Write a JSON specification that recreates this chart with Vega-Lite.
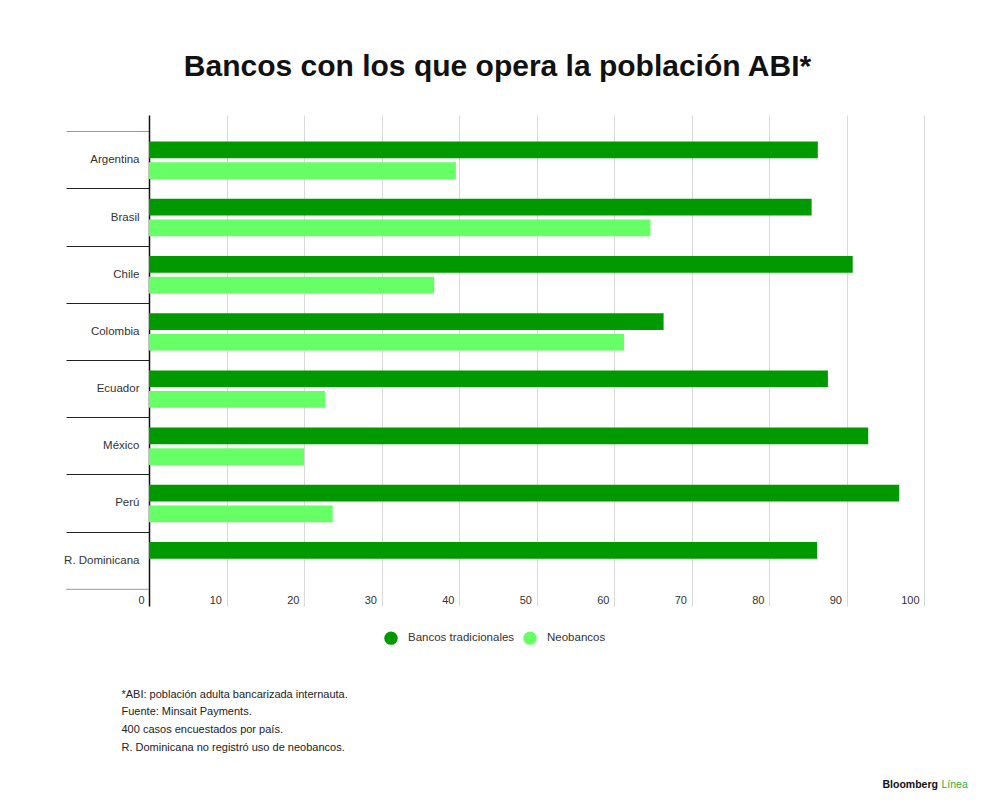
{
  "$schema": "https://vega.github.io/schema/vega-lite/v6.json",
  "autosize": "none",
  "width": 775,
  "height": 491,
  "padding": {"left": 149, "top": 115, "right": 76, "bottom": 206},
  "background": "white",
  "title": {
    "text": "Bancos con los que opera la población ABI*",
    "font": "Liberation Sans",
    "fontSize": 30,
    "fontWeight": "bold",
    "color": "#111111",
    "anchor": "middle",
    "frame": "group",
    "dx": -39,
    "offset": 33
  },
  "config": {"view": {"stroke": null}},
  "data": {
    "values": [
      {"pais": "Argentina", "tipo": "Bancos tradicionales", "valor": 86.3},
      {"pais": "Argentina", "tipo": "Neobancos", "valor": 39.6},
      {"pais": "Brasil", "tipo": "Bancos tradicionales", "valor": 85.5},
      {"pais": "Brasil", "tipo": "Neobancos", "valor": 64.7},
      {"pais": "Chile", "tipo": "Bancos tradicionales", "valor": 90.8},
      {"pais": "Chile", "tipo": "Neobancos", "valor": 36.8},
      {"pais": "Colombia", "tipo": "Bancos tradicionales", "valor": 66.4},
      {"pais": "Colombia", "tipo": "Neobancos", "valor": 61.3},
      {"pais": "Ecuador", "tipo": "Bancos tradicionales", "valor": 87.6},
      {"pais": "Ecuador", "tipo": "Neobancos", "valor": 22.7},
      {"pais": "México", "tipo": "Bancos tradicionales", "valor": 92.8},
      {"pais": "México", "tipo": "Neobancos", "valor": 20.0},
      {"pais": "Perú", "tipo": "Bancos tradicionales", "valor": 96.8},
      {"pais": "Perú", "tipo": "Neobancos", "valor": 23.7},
      {"pais": "R. Dominicana", "tipo": "Bancos tradicionales", "valor": 86.2}
    ]
  },
  "layer": [
    {
      "mark": {"type": "bar"},
      "encoding": {
        "y": {
          "field": "pais",
          "type": "nominal",
          "sort": ["Argentina", "Brasil", "Chile", "Colombia", "Ecuador", "México", "Perú", "R. Dominicana"],
          "scale": {"paddingInner": 0, "paddingOuter": 0.292},
          "axis": {
            "title": "Bloomberg",
            "titleAngle": 0,
            "titleX": 733,
            "titleY": 669,
            "titleAlign": "left",
            "titleBaseline": "middle",
            "titleFont": "Liberation Sans",
            "titleFontSize": 10.5,
            "titleFontWeight": "bold",
            "titleColor": "#111111",
            "bandPosition": 0,
            "tickSize": 83,
            "tickWidth": 1,
            "tickColor": {"condition": {"test": "datum.value === 'Argentina'", "value": "#9a9a9a"}, "value": "#222222"},
            "labelPadding": -73,
            "labelFont": "Liberation Sans",
            "labelFontSize": 11.5,
            "labelColor": "#333333",
            "domainColor": "#111111",
            "domainWidth": 1.5,
            "grid": false
          }
        },
        "yOffset": {
          "field": "tipo",
          "type": "nominal",
          "scale": {"paddingInner": 0.193, "paddingOuter": 0.478}
        },
        "x": {
          "field": "valor",
          "type": "quantitative",
          "scale": {"domain": [0, 100]},
          "axis": {
            "orient": "bottom",
            "title": [
              "*ABI: población adulta bancarizada internauta.",
              "Fuente: Minsait Payments.",
              "400 casos encuestados por país.",
              "R. Dominicana no registró uso de neobancos."
            ],
            "titleX": -28,
            "titleY": 91,
            "titleAlign": "left",
            "titleBaseline": "alphabetic",
            "titleLineHeight": 17.7,
            "titleFont": "Liberation Sans",
            "titleFontSize": 11,
            "titleFontWeight": "normal",
            "titleColor": "#222222",
            "values": [0, 10, 20, 30, 40, 50, 60, 70, 80, 90, 100],
            "grid": true,
            "gridColor": "#d9d9d9",
            "gridWidth": 1,
            "domain": false,
            "ticks": false,
            "tickSize": 0,
            "labelAlign": "right",
            "labelOffset": -5,
            "labelBaseline": "alphabetic",
            "labelPadding": -3,
            "labelFont": "Liberation Sans",
            "labelFontSize": 11,
            "labelColor": "#333333"
          }
        },
        "color": {
          "field": "tipo",
          "type": "nominal",
          "scale": {"domain": ["Bancos tradicionales", "Neobancos"], "range": ["#009900", "#66ff66"]},
          "legend": {
            "orient": "none",
            "legendX": 235,
            "legendY": 516,
            "direction": "horizontal",
            "title": null,
            "symbolType": "circle",
            "symbolSize": 180,
            "symbolStrokeWidth": 0,
            "symbolOpacity": 1,
            "labelFont": "Liberation Sans",
            "labelFontSize": 11.5,
            "labelColor": "#333333",
            "labelOffset": 10,
            "columnPadding": 8
          }
        }
      }
    },
    {
      "transform": [{"filter": "datum.pais === 'R. Dominicana' && datum.tipo === 'Bancos tradicionales'"}],
      "mark": {"type": "rule", "color": "#9a9a9a", "strokeWidth": 1},
      "encoding": {
        "y": {
          "field": "pais",
          "type": "nominal",
          "sort": ["Argentina", "Brasil", "Chile", "Colombia", "Ecuador", "México", "Perú", "R. Dominicana"],
          "bandPosition": 1,
          "axis": {
            "orient": "right",
            "title": "Línea",
            "titleAngle": 0,
            "titleX": 17,
            "titleY": 669,
            "titleAlign": "left",
            "titleBaseline": "middle",
            "titleFont": "Liberation Sans",
            "titleFontSize": 10.5,
            "titleFontWeight": "normal",
            "titleColor": "#2fb12f",
            "labels": false,
            "ticks": false,
            "domain": false,
            "grid": false
          }
        },
        "x": {"datum": -10.7, "type": "quantitative", "axis": null},
        "x2": {"datum": 0}
      }
    }
  ],
  "resolve": {"axis": {"x": "independent", "y": "independent"}}
}
